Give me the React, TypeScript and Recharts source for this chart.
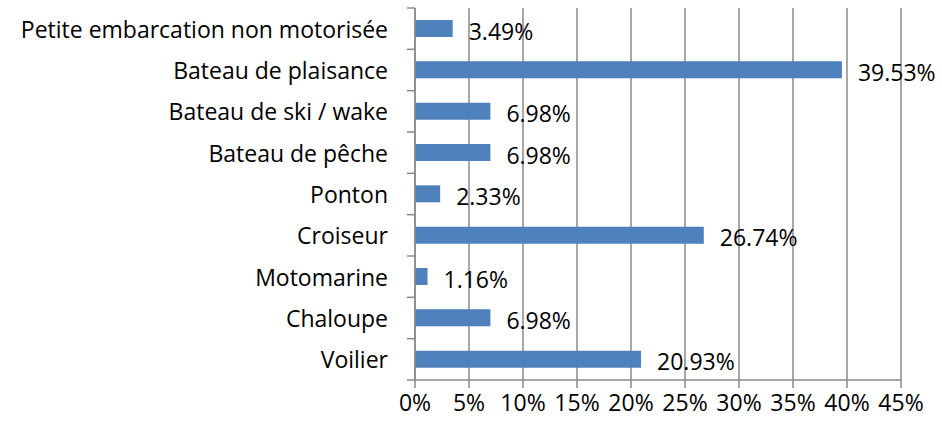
import { BarChart, Bar, XAxis, YAxis, CartesianGrid, LabelList } from "recharts";

const categories = [
  "Petite embarcation non motorisée",
  "Bateau de plaisance",
  "Bateau de ski / wake",
  "Bateau de pêche",
  "Ponton",
  "Croiseur",
  "Motomarine",
  "Chaloupe",
  "Voilier",
];

const shares = [3.49, 39.53, 6.98, 6.98, 2.33, 26.74, 1.16, 6.98, 20.93];

const xTicks = [0, 5, 10, 15, 20, 25, 30, 35, 40, 45];

const data = categories.map((name, i) => ({ name, value: shares[i] }));

const FONT = "'Open Sans', sans-serif";
const FONT_SIZE = 23;
const GRID = "#8a8a8a";
const TOP = 8;
const PLOT_H = 372;
const BAND = PLOT_H / categories.length;

function CategoryTick(props: any) {
  const { x, y, payload, index } = props;
  return (
    <g>
      <line x1={x - 8} x2={x} y1={y - BAND / 2} y2={y - BAND / 2} stroke={GRID} strokeWidth={1.5} />
      {index === categories.length - 1 && (
        <line x1={x - 8} x2={x} y1={y + BAND / 2} y2={y + BAND / 2} stroke={GRID} strokeWidth={1.5} />
      )}
      <text
        x={x - 27}
        y={y}
        textAnchor="end"
        dominantBaseline="central"
        fontFamily={FONT}
        fontSize={FONT_SIZE}
        fill="#000"
      >
        {payload.value}
      </text>
    </g>
  );
}

function ValueLabel(props: any) {
  const { x, y, width, height, value } = props;
  return (
    <text
      x={x + width + 16}
      y={y + height / 2 + 2}
      dominantBaseline="central"
      fontFamily={FONT}
      fontSize={FONT_SIZE}
      fill="#000"
    >
      {`${Number(value).toFixed(2)}%`}
    </text>
  );
}

export default function App() {
  return (
    <div style={{ position: "absolute", left: 0, top: 0, background: "#fff" }}>
      <BarChart
        width={942}
        height={429}
        data={data}
        layout="vertical"
        margin={{ top: TOP, right: 41, bottom: 0, left: 0 }}
        barCategoryGap={0}
      >
        <CartesianGrid horizontal={false} stroke={GRID} strokeWidth={1.5} />
        <XAxis
          type="number"
          domain={[0, 45]}
          ticks={xTicks}
          interval={0}
          tickFormatter={(v) => `${v}%`}
          height={49}
          tickSize={8}
          tickMargin={7}
          stroke={GRID}
          strokeWidth={1.5}
          tick={{ fill: "#000", fontSize: FONT_SIZE, fontFamily: FONT }}
        />
        <YAxis
          type="category"
          dataKey="name"
          width={415}
          interval={0}
          tickSize={0}
          tickMargin={0}
          tickLine={false}
          stroke={GRID}
          strokeWidth={1.5}
          tick={<CategoryTick />}
        />
        <Bar dataKey="value" fill="#4f81bd" barSize={17} isAnimationActive={false}>
          <LabelList dataKey="value" content={<ValueLabel />} />
        </Bar>
      </BarChart>
    </div>
  );
}
